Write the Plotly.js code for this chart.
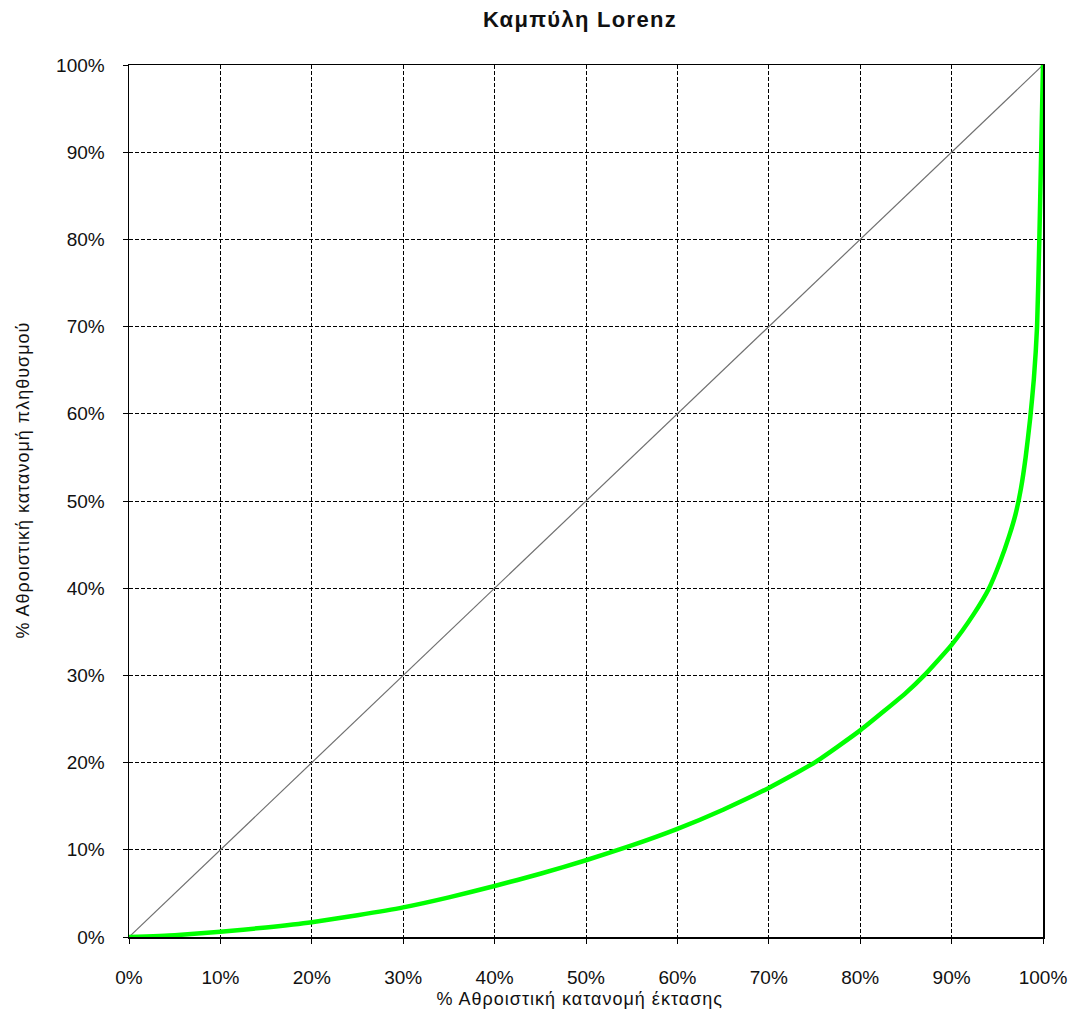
<!DOCTYPE html>
<html>
<head>
<meta charset="utf-8">
<script src="https://cdn.plot.ly/plotly-3.0.1.min.js"></script>
<style>
html,body{margin:0;padding:0;background:#fff;}
#chart .gtitle{letter-spacing:1.3px;}
#chart .annotation-text{letter-spacing:1px;}
</style>
</head>
<body>
<div id="chart" style="width:1072px;height:1011px;"></div>
<script>
// Cumulative share of area (%) and cumulative share of population (%)
var areaShare = [0, 5, 10, 15, 20, 25, 30, 35, 40, 45, 50, 55, 60, 65, 70, 75, 80, 85, 87, 90, 92.4, 94.1, 95.3, 96.3, 97.0, 97.6, 98.1, 98.6, 99.0, 99.35, 99.6, 99.8, 100];
var popShare  = [0, 0.2, 0.6, 1.1, 1.7, 2.5, 3.4, 4.55, 5.85, 7.25, 8.8, 10.5, 12.4, 14.6, 17.1, 20.0, 23.7, 28.0, 30.0, 33.5, 37.0, 40.0, 43.0, 46.0, 48.5, 51.5, 55.0, 59.5, 64.0, 70.0, 80.0, 90.0, 100];
// Line of equality
var equalityX = [0, 100];
var equalityY = [0, 100];
var tickVals = [0, 10, 20, 30, 40, 50, 60, 70, 80, 90, 100];
var tickText = ["0%", "10%", "20%", "30%", "40%", "50%", "60%", "70%", "80%", "90%", "100%"];

var chartTitle = "Καμπύλη Lorenz";
var xTitle = "% Αθροιστική κατανομή έκτασης";
var yTitle = "% Αθροιστική κατανομή πληθυσμού";

var font = "Arial, 'Liberation Sans', sans-serif";

var traces = [
  {x: equalityX, y: equalityY, mode: "lines", line: {color: "#707070", width: 1.2}, hoverinfo: "skip"},
  {x: areaShare, y: popShare, mode: "lines", line: {color: "#00ff00", width: 4.5, shape: "spline", smoothing: 0.5}}
];

var axisCommon = {
  range: [0, 100],
  tickvals: tickVals,
  ticktext: tickText,
  showgrid: true,
  gridcolor: "#000000",
  gridwidth: 1,
  griddash: "4px,2px",
  showline: true,
  linecolor: "#000000",
  linewidth: 1.5,
  mirror: true,
  ticks: "outside",
  ticklen: 5,
  tickcolor: "#000000",
  zeroline: false,
  fixedrange: true,
  tickfont: {family: font, size: 19, color: "#111111"}
};

var layout = {
  width: 1072,
  height: 1011,
  autosize: false,
  showlegend: false,
  paper_bgcolor: "#ffffff",
  plot_bgcolor: "#ffffff",
  margin: {l: 129, r: 29, t: 65, b: 74, pad: 0},
  title: {
    text: "<b>" + chartTitle + "</b>",
    font: {family: font, size: 22, color: "#111111"},
    xref: "paper", x: 0.4934, xanchor: "center",
    yref: "container", y: 0.981, yanchor: "middle"
  },
  xaxis: Object.assign({}, axisCommon, {ticklabelstandoff: 18}),
  yaxis: Object.assign({}, axisCommon, {ticklabelstandoff: 14}),
  annotations: [
    {text: xTitle, xref: "paper", yref: "paper", x: 0.4934, y: 0, yshift: -62, xanchor: "center", yanchor: "middle",
     showarrow: false, font: {family: font, size: 18, color: "#111111"}},
    {text: yTitle, xref: "paper", yref: "paper", x: 0, y: 0.524, xshift: -106, xanchor: "center", yanchor: "middle",
     textangle: -90, showarrow: false, font: {family: font, size: 18, color: "#111111"}}
  ]
};

Plotly.newPlot("chart", traces, layout, {displayModeBar: false, staticPlot: true});
</script>
</body>
</html>
